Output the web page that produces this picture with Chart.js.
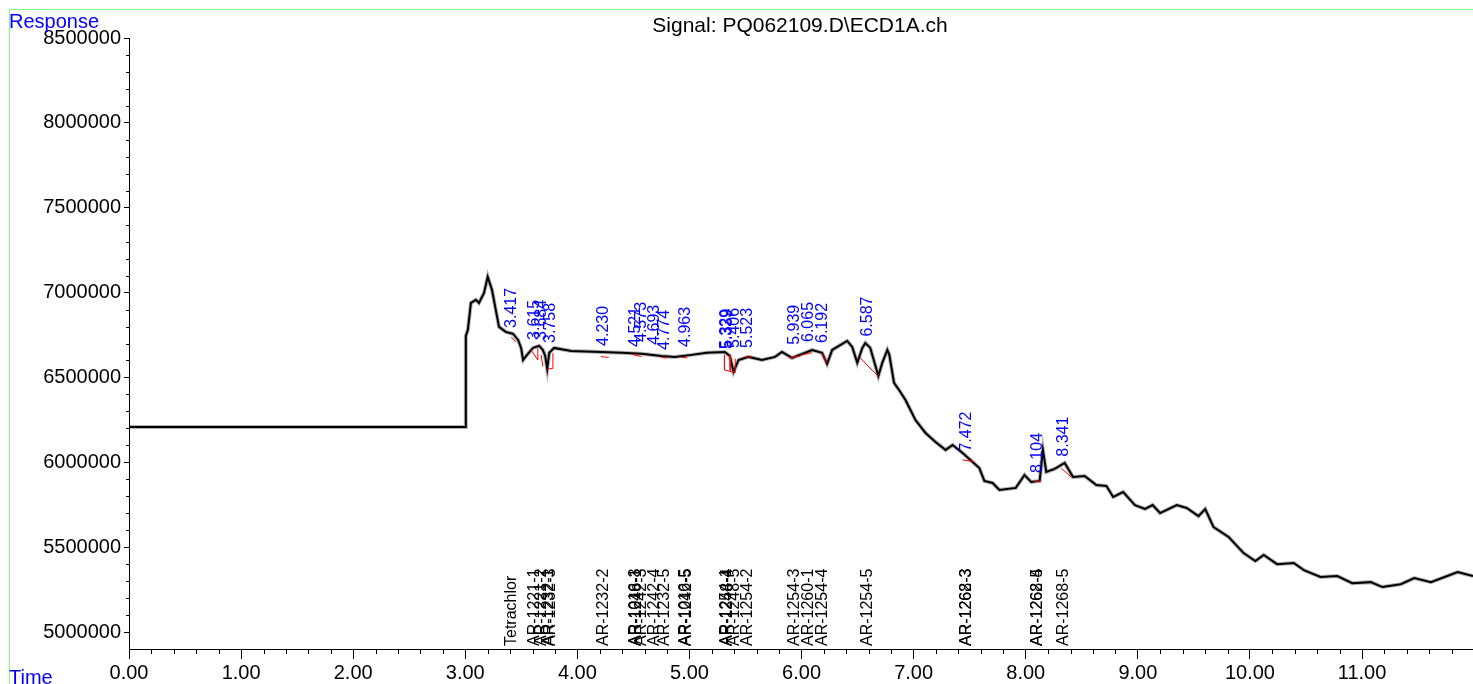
<!DOCTYPE html>
<html>
<head>
<meta charset="utf-8">
<script src="https://cdn.jsdelivr.net/npm/chart.js@4.4.1/dist/chart.umd.min.js"></script>
<style>
  html, body { margin: 0; padding: 0; background: #fff; }
  #chart { display: block; }
</style>
</head>
<body>
<canvas id="chart" width="1473" height="684"></canvas>
<script>
// chromatogram trace
const traceTime = [0, 3.000, 3.005, 3.023, 3.050, 3.095, 3.122, 3.167, 3.200, 3.238, 3.301, 3.363,
  3.426, 3.471, 3.498, 3.516, 3.551, 3.605, 3.659, 3.692, 3.713, 3.731, 3.749, 3.793, 3.945, 4.214,
  4.393, 4.571, 4.750, 4.868, 5.020, 5.154, 5.315, 5.360, 5.393, 5.438, 5.527, 5.646, 5.763, 5.825,
  5.915, 6.094, 6.183, 6.228, 6.273, 6.407, 6.452, 6.497, 6.542, 6.569, 6.613, 6.685, 6.720, 6.765,
  6.783, 6.825, 6.870, 6.927, 7.016, 7.106, 7.195, 7.285, 7.347, 7.437, 7.526, 7.586, 7.631, 7.705,
  7.765, 7.911, 7.989, 8.048, 8.124, 8.153, 8.183, 8.258, 8.347, 8.422, 8.526, 8.630, 8.720, 8.780,
  8.869, 8.974, 9.064, 9.132, 9.198, 9.347, 9.436, 9.541, 9.601, 9.675, 9.810, 9.944, 10.048, 10.123,
  10.242, 10.391, 10.481, 10.630, 10.779, 10.913, 11.078, 11.182, 11.346, 11.466, 11.615, 11.853, 11.99];
const traceResponse = [6208000, 6208000, 6745000, 6780000, 6939000, 6957000, 6939000, 6998000, 7093000,
  7016000, 6798000, 6768000, 6757000, 6721000, 6674000, 6603000, 6633000, 6674000, 6686000, 6662000,
  6627000, 6550000, 6645000, 6674000, 6656000, 6650000, 6645000, 6639000, 6627000, 6621000, 6633000,
  6645000, 6650000, 6627000, 6533000, 6603000, 6621000, 6603000, 6621000, 6650000, 6615000, 6662000,
  6645000, 6580000, 6662000, 6715000, 6680000, 6586000, 6674000, 6703000, 6674000, 6509000, 6586000,
  6662000, 6633000, 6468000, 6426000, 6367000, 6249000, 6173000, 6120000, 6073000, 6102000, 6055000,
  6002000, 5966000, 5890000, 5878000, 5837000, 5849000, 5925000, 5884000, 5890000, 6073000, 5943000,
  5961000, 5996000, 5913000, 5919000, 5866000, 5860000, 5796000, 5825000, 5748000, 5725000, 5748000,
  5701000, 5748000, 5731000, 5683000, 5725000, 5619000, 5560000, 5465000, 5418000, 5454000, 5400000,
  5407000, 5365000, 5324000, 5330000, 5288000, 5294000, 5265000, 5282000, 5318000, 5294000, 5353000,
  5330000];

// integration baselines / drop lines (red)
const baseT0 = [3.408, 3.587, 3.647, 3.677, 3.731, 3.782, 4.21, 4.483, 4.75, 4.93, 5.312, 5.312, 5.363, 5.408,
  5.497, 5.886, 6.005, 6.183, 6.518, 7.437, 8.079, 8.317];
const baseR0 = [6739000, 6662000, 6603000, 6633000, 6548000, 6554000, 6623000, 6637000, 6618000, 6618000,
  6633000, 6544000, 6633000, 6528000, 6621000, 6615000, 6633000, 6643000, 6619000, 6014000, 5886000, 5965000];
const baseT1 = [3.453, 3.647, 3.647, 3.692, 3.782, 3.782, 4.28, 4.571, 4.80, 4.98, 5.312, 5.408, 5.363, 5.408,
  5.557, 5.989, 6.094, 6.228, 6.691, 7.541, 8.138, 8.407];
const baseR1 = [6709000, 6603000, 6672000, 6564000, 6554000, 6643000, 6618000, 6623000, 6615000, 6615000,
  6544000, 6528000, 6540000, 6610000, 6621000, 6627000, 6646000, 6584000, 6501000, 6004000, 5892000, 5912000];

// blue retention time labels
const peakTimes = [3.417, 3.615, 3.684, 3.758, 4.230, 4.521, 4.573, 4.693, 4.774, 4.963, 5.329, 5.339,
  5.406, 5.523, 5.939, 6.065, 6.192, 6.587, 7.472, 8.104, 8.341];
const peakLabelAt = [6792000, 6721000, 6721000, 6703000, 6686000, 6680000, 6709000, 6692000, 6662000,
  6680000, 6668000, 6668000, 6674000, 6674000, 6692000, 6709000, 6703000, 6741000, 6063000, 5937000, 6033000];

// compound names at the bottom
const compoundTimes = [3.417, 3.615, 3.684, 3.740, 3.758, 4.230, 4.521, 4.531, 4.573, 4.693, 4.774, 4.963,
  4.970, 5.329, 5.339, 5.406, 5.523, 5.939, 6.065, 6.192, 6.587, 7.472, 7.474, 8.104, 8.106, 8.341];
const compoundNames = ["Tetrachlor", "AR-1221-1", "AR-1221-2", "AR-1232-1", "AR-1232-3", "AR-1232-2",
  "AR-1016-3", "AR-1248-1", "AR-1242-3", "AR-1242-4", "AR-1232-5", "AR-1016-5", "AR-1242-5",
  "AR-1254-1", "AR-1248-4", "AR-1248-5", "AR-1254-2", "AR-1254-3", "AR-1260-1", "AR-1254-4",
  "AR-1254-5", "AR-1262-3", "AR-1268-3", "AR-1262-5", "AR-1268-4", "AR-1268-5"];

const xTicks = [0, 1, 2, 3, 4, 5, 6, 7, 8, 9, 10, 11];
const yTicks = [5000000, 5500000, 6000000, 6500000, 7000000, 7500000, 8000000, 8500000];

const FONT = "'Liberation Sans', Arial, sans-serif";

const tracePoints = traceTime.map((t, i) => ({ x: t, y: traceResponse[i] }));

const datasets = [
  {
    data: tracePoints,
    showLine: true,
    borderColor: "rgba(0,0,0,0.3)",
    borderWidth: 4,
    pointRadius: 0,
    order: 3,
  },
  {
    data: tracePoints,
    showLine: true,
    borderColor: "#000",
    borderWidth: 2,
    pointRadius: 0,
    order: 2,
  },
];
baseT0.forEach((t, i) => {
  datasets.push({
    data: [
      { x: t, y: baseR0[i] },
      { x: baseT1[i], y: baseR1[i] },
    ],
    showLine: true,
    borderColor: "#ff0000",
    borderWidth: 1,
    pointRadius: 0,
    order: 1,
  });
});

const decorations = {
  id: "decorations",
  beforeDraw(chart) {
    const ctx = chart.ctx;
    ctx.save();
    ctx.fillStyle = "#fff";
    ctx.fillRect(0, 0, chart.width, chart.height);
    ctx.fillStyle = "#80ff80";
    ctx.fillRect(9, 9, chart.width - 9, 1);
    ctx.fillRect(9, 9, 1, chart.height - 9);
    ctx.restore();
  },
  afterDraw(chart) {
    const ctx = chart.ctx;
    const xs = chart.scales.x;
    const ys = chart.scales.y;
    const area = chart.chartArea;
    ctx.save();

    // minor ticks
    ctx.strokeStyle = "#000";
    ctx.lineWidth = 1;
    ctx.beginPath();
    for (let i = 1; i * 0.2 < xs.max; i++) {
      if (i % 5 === 0) continue;
      const px = Math.round(xs.getPixelForValue(i * 0.2)) + 0.5;
      ctx.moveTo(px, area.bottom);
      ctx.lineTo(px, area.bottom + 5);
    }
    for (let i = 1; ys.min + i * 100000 < ys.max; i++) {
      const v = ys.min + i * 100000;
      if (v % 500000 === 0) continue;
      const py = Math.round(ys.getPixelForValue(v)) + 0.5;
      ctx.moveTo(area.left, py);
      ctx.lineTo(area.left - 3, py);
    }
    ctx.stroke();

    // retention time labels
    ctx.font = "16px " + FONT;
    ctx.fillStyle = "#0000ff";
    ctx.textAlign = "left";
    ctx.textBaseline = "middle";
    peakTimes.forEach((t, i) => {
      ctx.save();
      ctx.translate(xs.getPixelForValue(t), ys.getPixelForValue(peakLabelAt[i]));
      ctx.rotate(-Math.PI / 2);
      ctx.fillText(t.toFixed(3), 0, 0);
      ctx.restore();
    });

    // compound names
    ctx.fillStyle = "#000";
    compoundTimes.forEach((t, i) => {
      ctx.save();
      ctx.translate(xs.getPixelForValue(t), area.bottom - 3);
      ctx.rotate(-Math.PI / 2);
      ctx.fillText(compoundNames[i], 0, 0);
      ctx.restore();
    });

    // title and axis names
    ctx.textBaseline = "alphabetic";
    ctx.font = "21px " + FONT;
    ctx.textAlign = "center";
    ctx.fillText("Signal: PQ062109.D\\ECD1A.ch", 800, 32);
    ctx.font = "20px " + FONT;
    ctx.textAlign = "left";
    ctx.fillStyle = "#0000ff";
    ctx.fillText("Response", 9, 28);
    ctx.fillText("Time", 9, 684);
    ctx.restore();
  },
};

new Chart(document.getElementById("chart"), {
  type: "scatter",
  data: { datasets: datasets },
  options: {
    responsive: false,
    animation: false,
    devicePixelRatio: 1,
    layout: { padding: { left: 0, top: 38, right: 0, bottom: 0 } },
    plugins: {
      legend: { display: false },
      tooltip: { enabled: false },
      title: { display: false },
    },
    scales: {
      x: {
        type: "linear",
        min: 0,
        max: 11.99,
        grid: { drawOnChartArea: false, tickLength: 10, color: "#000" },
        border: { color: "#000", width: 1 },
        ticks: {
          color: "#000",
          font: { size: 20, family: FONT },
          padding: 2,
          maxRotation: 0,
          callback: (v) => v.toFixed(2),
        },
        afterBuildTicks: (scale) => {
          scale.ticks = xTicks.map((v) => ({ value: v }));
        },
        afterFit: (scale) => {
          scale.height = 35;
        },
      },
      y: {
        type: "linear",
        min: 4900000,
        max: 8500000,
        grid: { drawOnChartArea: false, tickLength: 5, color: "#000" },
        border: { color: "#000", width: 1 },
        ticks: {
          color: "#000",
          font: { size: 20, family: FONT },
          padding: 3,
          callback: (v) => String(v),
        },
        afterBuildTicks: (scale) => {
          scale.ticks = yTicks.map((v) => ({ value: v }));
        },
        afterFit: (scale) => {
          scale.width = 129;
        },
      },
    },
  },
  plugins: [decorations],
});
</script>
</body>
</html>
